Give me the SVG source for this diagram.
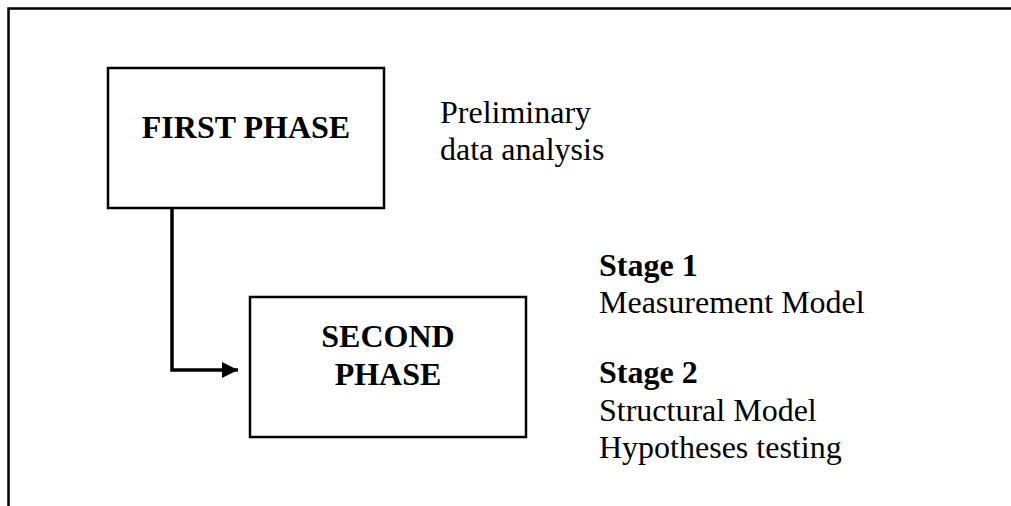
<svg xmlns="http://www.w3.org/2000/svg" width="1011" height="506" viewBox="0 0 1011 506">
  <style>
    .box { fill: #fff; stroke: #000; stroke-width: 2.5; }
    .frame { fill: none; stroke: #000; stroke-width: 2.5; }
    .conn { fill: none; stroke: #000; stroke-width: 3.5; }
    .t { font-family: "Liberation Serif", "Times New Roman", serif; font-size: 32px; fill: #000; }
    .b { font-weight: bold; }
  </style>
  <defs>
    <marker id="arrow" markerUnits="userSpaceOnUse" markerWidth="18" markerHeight="16" refX="16" refY="8" orient="auto">
      <path d="M0,0 L16,8 L0,16 Z" fill="#000"/>
    </marker>
  </defs>
  <rect width="1011" height="506" fill="#fff"/>

  <!-- open frame: top and left edges only -->
  <path class="frame" d="M1011,8.5 H8.5 V506"/>

  <g id="connectors">
    <path class="conn" d="M172,208 V370 H238" marker-end="url(#arrow)"/>
  </g>

  <g id="first-phase">
    <rect class="box" x="108" y="68" width="276" height="140"/>
    <text class="t b" x="246" y="138" text-anchor="middle">FIRST PHASE</text>
  </g>

  <g id="second-phase">
    <rect class="box" x="250" y="297" width="276" height="140"/>
    <text class="t b" x="388" y="347" text-anchor="middle">SECOND</text>
    <text class="t b" x="388" y="385" text-anchor="middle">PHASE</text>
  </g>

  <g id="first-phase-note">
    <text class="t" x="440" y="123">Preliminary</text>
    <text class="t" x="440" y="160">data analysis</text>
  </g>

  <g id="second-phase-note">
    <text class="t b" x="599" y="276">Stage 1</text>
    <text class="t" x="599" y="313">Measurement Model</text>
    <text class="t b" x="599" y="383">Stage 2</text>
    <text class="t" x="599" y="421">Structural Model</text>
    <text class="t" x="599" y="458">Hypotheses testing</text>
  </g>
</svg>
